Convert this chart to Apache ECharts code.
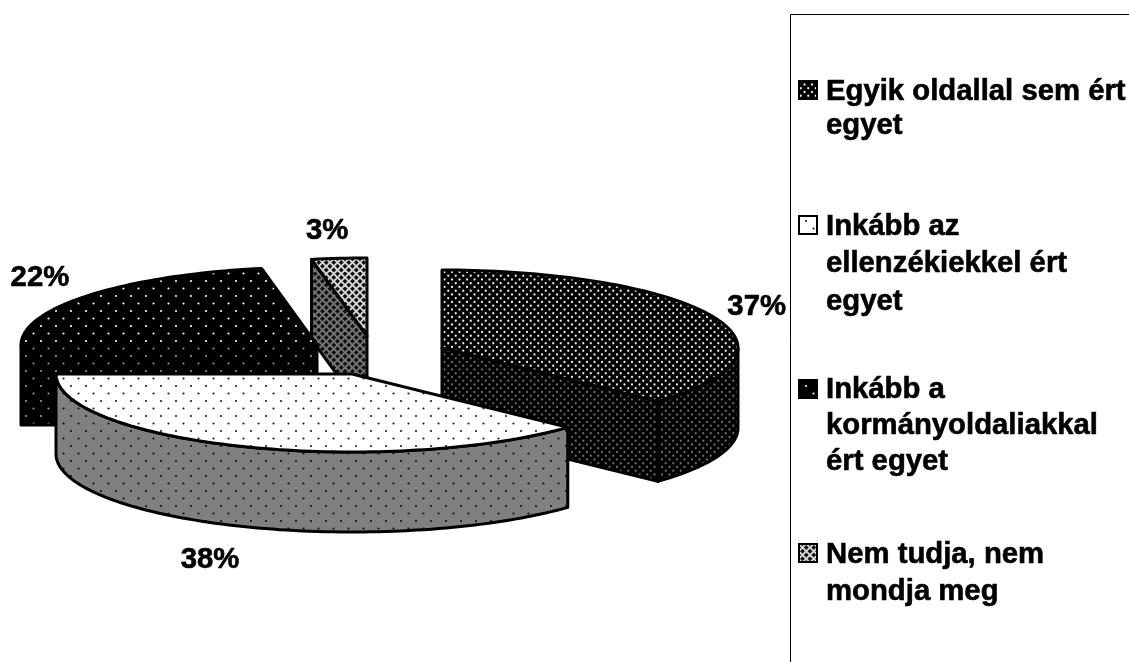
<!DOCTYPE html>
<html><head><meta charset="utf-8">
<style>html,body{margin:0;padding:0;background:#fff}#c{width:1129px;height:662px}</style>
<script src="https://cdn.jsdelivr.net/npm/echarts@6/dist/echarts.min.js"></script>
</head><body><div id="c"></div>
<script>
// ---- data ----
var categories = ['Egyik oldallal sem ért egyet','Inkább az ellenzékiekkel ért egyet','Inkább a kormányoldaliakkal ért egyet','Nem tudja, nem mondja meg'];
var shares = [37, 38, 22, 3];
var legendLines = [
  ['Egyik oldallal sem ért','egyet'],
  ['Inkább az','ellenzékiekkel ért','egyet'],
  ['Inkább a','kormányoldaliakkal','ért egyet'],
  ['Nem tudja, nem','mondja meg']
];
// ---- layout ----
var RX = 296, RY = 78, DEPTH = 80, START = 90;
var apexX = [442, 352, 317, 367];
var apexY = [348, 374, 345, 336];
var labelDX = [43, -33, -49, -12];
var labelDY = [-10.5, 33.5, -17.5, -27.5];
var layerZ = [1, 4, 3, 2];
var legendY = [91.5, 226.5, 389.5, 554.5];
var legendLH = [34, 37.5, 36, 37.5];
var swatchY = [81, 216, 380, 544];
var FONT = 'bold 29.3px "Liberation Sans", Arial, sans-serif';

function tile(bg, fg, pts, r) {
  var c = document.createElement('canvas'); c.width = 15; c.height = 15;
  var g = c.getContext('2d'); g.fillStyle = bg; g.fillRect(0,0,15,15); g.fillStyle = fg;
  pts.forEach(function(p){ g.beginPath(); g.arc(p[0],p[1],r,0,Math.PI*2); g.fill(); });
  return {image:c, repeat:'repeat'};
}
var sparse = [[3.5,3.5],[11,11]];
var dense = [[2,2],[9.5,2],[5.75,5.75],[13.25,5.75],[2,9.5],[9.5,9.5],[5.75,13.25],[13.25,13.25]];
function lattice(bg, fg){
  var c = document.createElement('canvas'); c.width = 15; c.height = 15;
  var g = c.getContext('2d'); g.fillStyle = bg; g.fillRect(0,0,15,15);
  g.strokeStyle = fg; g.lineWidth = 1.9;
  for (var k=-15;k<=30;k+=7.5){
    g.beginPath(); g.moveTo(k,0); g.lineTo(k+15,15); g.stroke();
    g.beginPath(); g.moveTo(k,0); g.lineTo(k-15,15); g.stroke();
  }
  return {image:c, repeat:'repeat'};
}
var topFill = [
  tile('#000','#e6e6e6',dense,1.15),
  tile('#fff','#222',sparse,1.1),
  tile('#000','#fff',sparse,1.05),
  lattice('#111','#d8d8d8')
];
var sideFill = [
  tile('#000','#6a6a6a',dense,1.15),
  tile('#808080','#111',sparse,1.1),
  tile('#000','#999',sparse,1.05),
  lattice('#111','#777')
];

var total = shares.reduce(function(a,b){return a+b;},0);
var starts = []; (function(){ var a = START; shares.forEach(function(v){ starts.push(a); a -= v/total*360; }); })();

function rim(ax, ay, a0, a1, dz) {
  var n = Math.max(2, Math.ceil(Math.abs(a1-a0)/1.5)), out = [];
  for (var i=0;i<=n;i++){ var t=(a0+(a1-a0)*i/n)*Math.PI/180;
    out.push([ax+RX*Math.cos(t), ay-RY*Math.sin(t)+dz]); }
  return out;
}
function poly(points, fill, z) {
  return {type:'polygon', z2:z, shape:{points:points},
    style:{fill:fill, stroke:'#000', lineWidth:3, lineJoin:'round'}};
}
function renderItem(params, api) {
  var i = params.dataIndex, v = api.value(0);
  var a0 = starts[i], a1 = a0 - v/total*360;
  var ax = apexX[i], ay = apexY[i], z = layerZ[i]*10, ch = [];
  function cut(a){ var t=a*Math.PI/180, x=ax+RX*Math.cos(t), y=ay-RY*Math.sin(t);
    return [[ax,ay],[x,y],[x,y+DEPTH],[ax,ay+DEPTH]]; }
  // cut faces turned towards the viewer
  var eps = 1e-6;
  if (Math.cos(a0*Math.PI/180) < -eps) ch.push(poly(cut(a0), sideFill[i], z));
  if (Math.cos(a1*Math.PI/180) > eps) ch.push(poly(cut(a1), sideFill[i], z));
  // outer wall: only the front half (angles below the horizon)
  var s = Math.max(a1, -180), e = Math.min(a0, 0);
  if (e - s > 0.01) {
    var up = rim(ax, ay, s, e, 0), dn = rim(ax, ay, s, e, DEPTH).reverse();
    ch.push(poly(up.concat(dn), sideFill[i], z+1));
  }
  // top face
  ch.push(poly([[ax,ay]].concat(rim(ax, ay, a0, a1, 0)), topFill[i], z+2));
  // percentage label
  var mid = (a0+a1)/2*Math.PI/180;
  ch.push({type:'text', z2:100, style:{
    text:v+'%', font:FONT, fill:'#000', stroke:'#000', lineWidth:0.6, align:'center', verticalAlign:'middle',
    x:ax+RX*Math.cos(mid)+labelDX[i],
    y:ay-RY*Math.sin(mid)+(Math.sin(mid)<0?DEPTH:0)+labelDY[i]}});
  return {type:'group', children:ch};
}

var graphics = [{type:'polyline', shape:{points:[[790.5,662],[790.5,14.5],[1129,14.5]]},
  style:{stroke:'#000', lineWidth:1, fill:null}}];
legendLines.forEach(function(lines,i){
  graphics.push({type:'rect', shape:{x:799,y:swatchY[i],width:18,height:18},
    style:{fill:topFill[i], stroke:'#000', lineWidth:2}});
  lines.forEach(function(t,j){
    graphics.push({type:'text', style:{text:t, font:FONT, fill:'#000', stroke:'#000', lineWidth:0.6, x:826, y:legendY[i]+j*legendLH[i],
      align:'left', verticalAlign:'middle'}});
  });
});

var chart = echarts.init(document.getElementById('c'), null, {renderer:'canvas', devicePixelRatio:1});
chart.setOption({
  animation:false, backgroundColor:'#fff',
  graphic:graphics,
  series:[{type:'custom', coordinateSystem:'none', renderItem:renderItem, silent:true,
    data:shares.map(function(v,i){ return {name:categories[i], value:[v]}; })}]
});
</script></body></html>
